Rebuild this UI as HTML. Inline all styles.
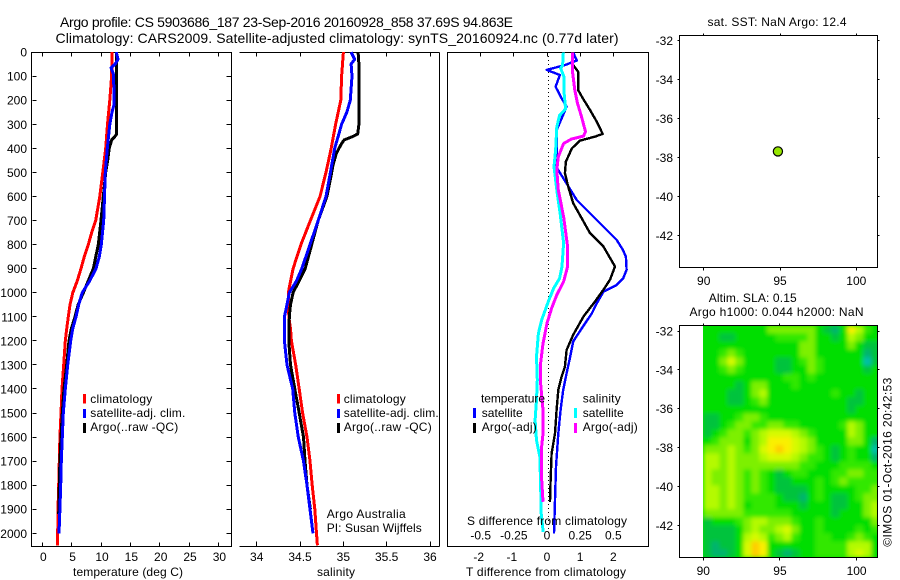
<!DOCTYPE html>
<html lang="en">
<head>
<meta charset="utf-8">
<title>Argo profile CS 5903686_187</title>
<style>
html,body{margin:0;padding:0;background:#fff;}
svg{display:block;font-family:"Liberation Sans",Arial,sans-serif;font-size:12px;fill:#000;}
.t14{font-size:14px;}
.ax{stroke:#000;stroke-width:1;shape-rendering:crispEdges;fill:none;}
</style>
</head>
<body>
<svg id="chart" xmlns="http://www.w3.org/2000/svg" width="900" height="580" viewBox="0 0 900 580">
  <defs>
    <filter id="soft" x="-5%" y="-5%" width="110%" height="110%"><feGaussianBlur stdDeviation="2"/></filter>
    <clipPath id="map-clip"><rect x="703" y="326" width="175" height="231"/></clipPath>
  </defs>
  <rect width="900" height="580" fill="#fff"/>

  <text class="t14" x="60" y="27" textLength="453">Argo profile: CS 5903686_187 23-Sep-2016 20160928_858 37.69S 94.863E</text>
  <text class="t14" x="55.5" y="43" textLength="563">Climatology: CARS2009. Satellite-adjusted climatology: synTS_20160924.nc (0.77d later)</text>

  <g id="temp-panel"></g>
  <g id="sal-panel"></g>
  <g id="diff-panel"></g>
  <g id="sst-map"></g>
  <g id="sla-map"></g>

  <text x="128" y="576" text-anchor="middle" textLength="110">temperature (deg C)</text>
  <text x="336" y="576" text-anchor="middle" textLength="38">salinity</text>
  <text x="546" y="576" text-anchor="middle" textLength="160">T difference from climatology</text>
  <text x="547" y="525" text-anchor="middle" textLength="160">S difference from climatology</text>

  <g>
    <rect x="83" y="394" width="3" height="9.5" fill="#f00"/>
    <text x="90.3" y="403" textLength="62">climatology</text>
    <rect x="83" y="409" width="3" height="9" fill="#00f"/>
    <text x="90.3" y="417" textLength="95">satellite-adj. clim.</text>
    <rect x="83" y="423" width="3" height="10" fill="#000"/>
    <text x="90.3" y="431" textLength="88">Argo(..raw -QC)</text>
  </g>
  <g>
    <rect x="337" y="394" width="3" height="9.5" fill="#f00"/>
    <text x="343.7" y="403" textLength="62">climatology</text>
    <rect x="337" y="409" width="3" height="9" fill="#00f"/>
    <text x="343.7" y="417" textLength="95">satellite-adj. clim.</text>
    <rect x="337" y="423" width="3" height="10" fill="#000"/>
    <text x="343.7" y="431" textLength="88">Argo(..raw -QC)</text>
  </g>
  <text x="326.7" y="518" textLength="79">Argo Australia</text>
  <text x="326.7" y="532" textLength="95">PI: Susan Wijffels</text>

  <g>
    <text x="481" y="402.5" textLength="64">temperature</text>
    <rect x="473" y="408" width="3" height="10" fill="#00f"/>
    <text x="481.7" y="417" textLength="41">satellite</text>
    <rect x="473" y="423" width="3" height="10" fill="#000"/>
    <text x="481.7" y="431" textLength="55">Argo(-adj)</text>
    <text x="582.7" y="402.5" textLength="38">salinity</text>
    <rect x="574" y="408" width="3" height="10" fill="#0ff"/>
    <text x="582.7" y="417" textLength="41">satellite</text>
    <rect x="574" y="423" width="3" height="10" fill="#f0f"/>
    <text x="582.7" y="431" textLength="55">Argo(-adj)</text>
  </g>

  <text x="777" y="26" text-anchor="middle" textLength="139">sat. SST: NaN Argo: 12.4</text>
  <text x="752.7" y="302" text-anchor="middle" textLength="88">Altim. SLA: 0.15</text>
  <text x="776.5" y="316" text-anchor="middle" textLength="174">Argo h1000: 0.044 h2000: NaN</text>
  <text transform="translate(891.5,546.7) rotate(-90)" textLength="169">©IMOS 01-Oct-2016 20:42:53</text>
</svg>

<script>
// ---------- Depth axis ----------
const depthTicks = [0,100,200,300,400,500,600,700,800,900,1000,1100,1200,1300,1400,1500,1600,1700,1800,1900,2000];

// ---------- Temperature panel ----------
const tempTicks = [0,5,10,15,20,25,30];
const tempClimDepth = [0,100,200,300,400,500,600,700,750,800,850,900,950,1000,1050,1100,1150,1200,1300,1400,1500,1600,1700,1800,1900,2000,2050];
const tempClimValues = [11.9,11.8,11.5,11.1,10.8,10.3,9.8,9.1,8.41,7.84,7.16,6.6,5.97,5.2,4.72,4.43,4.16,3.92,3.64,3.36,3.19,3.0,2.9,2.8,2.67,2.62,2.62];
const tempArgoDepth = [0,340,350,365,400,450,500,600,700,800,900,950,1000,1050,1100,1150,1200,1300,1400,1500,1600,1700,1800,1920];
const tempArgoValues = [12.67,12.67,12.4,11.82,11.4,11.14,10.8,10.4,10.0,9.54,8.69,7.84,7.0,6.1,5.57,4.94,4.55,4.16,3.7,3.41,3.19,3.0,2.9,2.8];
const tempSatDepth = [0,30,50,65,90,150,220,250,300,400,500,600,700,800,850,900,950,1000,1050,1100,1150,1200,1300,1400,1500,1600,1700,1800,1900,2000];
const tempSatValues = [12.6,12.9,12.4,11.7,12.1,12.2,12.2,11.87,11.5,11.07,10.73,10.6,10.46,10.05,9.71,9.15,8.1,6.8,6.2,5.74,5.18,4.84,4.33,3.92,3.58,3.41,3.24,3.13,3.0,2.84];

// ---------- Salinity panel ----------
const salTicks = [34,34.5,35,35.5,36];
const salTickLabels = ['34','34.5','35','35.5','36'];
const salClimDepth = [0,100,200,250,300,400,500,600,700,800,900,1000,1100,1150,1200,1300,1400,1500,1600,1700,1800,1900,2000,2050];
const salClimValues = [35.0,34.98,34.97,34.94,34.91,34.86,34.8,34.73,34.62,34.51,34.42,34.365,34.37,34.39,34.4,34.45,34.49,34.53,34.58,34.615,34.64,34.67,34.69,34.7];
const salArgoDepth = [0,50,300,340,350,365,380,420,470,500,600,700,800,900,1000,1050,1100,1200,1300,1400,1500,1600,1700,1800,1900];
const salArgoValues = [35.17,35.18,35.18,35.166,35.115,35.01,34.98,34.92,34.88,34.866,34.81,34.71,34.635,34.56,34.42,34.39,34.376,34.37,34.39,34.44,34.49,34.54,34.557,34.58,34.62];
const salSatDepth = [0,30,50,100,200,250,300,350,400,500,600,700,800,900,950,1000,1050,1100,1200,1300,1400,1500,1600,1700,1800,1900,2000];
const salSatValues = [35.09,35.13,35.09,35.1,35.08,35.04,34.98,34.94,34.9,34.85,34.8,34.71,34.615,34.52,34.46,34.376,34.35,34.32,34.32,34.35,34.415,34.44,34.48,34.54,34.58,34.615,34.65];

// ---------- Difference panel ----------
const diffTTicks = [-2,-1,0,1,2];
const diffSTicks = [-0.5,-0.25,0,0.25,0.5];
const diffSTickLabels = ['-0.5','-0.25','0','0.25','0.5'];
const diffTSatDepth = [2,35,54,74,95,144,192,227,276,324,421,469,546,615,698,739,780,820,850,905,940,968,996,1045,1086,1148,1203,1266,1335,1404,1487,1585,1723,1862,2000];
const diffTSatValues = [0.79,0.9,0.54,-0.01,0.39,0.26,0.44,0.59,0.44,0.29,0.29,0.24,0.59,0.9,1.5,1.8,2.1,2.28,2.38,2.4,2.3,2.1,1.7,1.5,1.35,1.05,0.79,0.7,0.59,0.49,0.41,0.34,0.27,0.24,0.21];
const diffTArgoDepth = [54,82,158,192,241,289,340,351,368,400,455,503,559,628,704,753,808,891,946,988,1036,1099,1175,1238,1308,1349,1404,1487,1585,1668,1779,1869];
const diffTArgoValues = [0.79,0.94,0.94,1.08,1.3,1.5,1.68,1.45,1.0,0.75,0.57,0.54,0.64,0.79,1.1,1.3,1.7,2.05,1.9,1.7,1.45,1.1,0.79,0.59,0.54,0.44,0.34,0.29,0.24,0.14,0.11,0.09];
const diffSSatDepth = [2,54,68,105,174,236,263,311,408,476,573,670,794,891,940,982,1037,1113,1169,1266,1363,1446,1530,1613,1682,1779,1918,1994];
const diffSSatValues = [0.123,0.118,0.103,0.13,0.13,0.14,0.095,0.074,0.065,0.053,0.074,0.099,0.125,0.113,0.095,0.05,0.01,-0.04,-0.065,-0.079,-0.073,-0.079,-0.09,-0.079,-0.054,-0.049,-0.044,-0.029];
const diffSArgoDepth = [2,88,158,213,268,331,349,361,380,435,490,573,684,808,891,954,1009,1065,1127,1211,1294,1377,1487,1585,1654,1751,1869];
const diffSArgoValues = [0.194,0.194,0.21,0.23,0.26,0.29,0.275,0.185,0.125,0.085,0.074,0.085,0.125,0.155,0.155,0.125,0.074,0.035,0,-0.03,-0.048,-0.048,-0.03,-0.03,-0.043,-0.043,-0.03];

// ---------- Maps ----------
const lonTicks = [90,95,100];
const latTicks = [-32,-34,-36,-38,-40,-42];
const profileLon = [94.863];
const profileLat = [-37.69];
// Sea level anomaly in colour levels (0 = teal ... 9 = orange), north to south, west to east.
const slaLevels = [
[3,3,3,3,3,3,3,3,5,5,5,5,5,5,3,2,1,3,8,6,4,3],
[3,3,2,2,3,3,3,3,3,4,4,4,4,5,3,3,2,3,6,5,3,3],
[3,3,3,3,3,3,3,3,3,3,3,3,5,5,3,3,3,3,5,3,2,2],
[3,3,4,5,4,3,3,3,3,3,3,3,5,5,3,3,3,3,3,3,1,2],
[3,3,5,7,5,3,3,3,3,2,2,3,4,5,4,3,3,3,3,3,0,2],
[3,3,4,5,4,3,3,3,3,2,2,3,3,5,4,3,3,3,3,3,2,3],
[3,3,3,3,3,3,3,3,3,3,4,4,3,4,3,3,3,3,3,3,3,3],
[3,3,3,3,2,3,5,5,3,3,3,4,3,3,3,3,3,3,3,3,3,3],
[3,3,3,2,2,3,5,6,3,3,3,3,3,3,3,3,4,3,3,2,3,3],
[3,3,3,2,2,3,4,5,3,3,3,3,3,3,3,3,3,3,2,2,3,3],
[3,3,3,3,3,3,3,3,3,3,3,3,3,3,3,3,3,3,2,3,3,3],
[2,2,3,3,4,5,5,4,3,3,3,3,3,3,3,3,3,3,3,3,3,3],
[2,2,3,4,5,5,4,4,5,5,4,4,3,3,3,3,3,4,6,5,3,3],
[2,3,4,5,5,4,5,6,7,7,7,6,5,4,3,3,3,3,6,5,3,3],
[3,4,5,5,5,3,5,6,8,8,8,7,6,5,3,3,3,3,5,5,3,1],
[5,5,5,6,5,4,5,7,8,9,8,7,6,5,4,3,2,3,4,3,3,0],
[6,6,5,6,5,5,5,6,7,7,7,6,5,4,4,3,2,3,4,3,3,1],
[6,6,5,6,5,5,5,5,5,5,5,5,4,4,3,3,3,4,4,4,4,3],
[6,5,5,6,5,4,5,4,3,2,3,4,4,3,3,3,4,4,5,5,4,4],
[6,5,5,6,5,4,5,4,3,2,2,3,3,3,4,3,4,5,4,4,4,4],
[6,6,5,6,5,4,5,4,3,2,2,2,2,3,4,3,3,3,3,4,4,5],
[6,6,5,6,5,4,4,4,4,3,2,2,1,3,4,3,2,2,3,4,5,5],
[6,6,5,6,5,3,4,4,4,3,3,3,2,3,3,3,2,2,3,3,5,6],
[5,5,5,5,5,4,4,4,4,4,4,3,3,3,3,3,2,3,3,3,5,6],
[2,3,3,3,4,5,6,6,5,5,5,4,3,3,4,3,3,3,3,3,3,5],
[2,2,2,2,3,5,6,5,5,6,7,5,3,3,4,3,3,3,3,4,3,4],
[2,2,2,2,3,6,7,6,4,5,6,4,3,3,4,4,3,3,4,5,4,3],
[2,1,2,2,3,7,9,8,3,3,3,3,3,3,4,4,4,4,6,6,6,3],
[2,1,1,2,3,7,9,8,3,2,1,2,3,3,4,4,4,4,6,7,6,3]
];

// ---------- Axis functions ----------
const yDepth = d => 52.1 + d * 0.2406;
const xTemp = v => 42.3 + v * 5.87;
const xSal = v => 256.7 + (v - 34) * 86.65;
const xDiffT = v => 547 + v * 33.15;
const xDiffS = v => 547 + v * 132.6;
const xLon1 = v => 703.7 + (v - 90) * 15.26;
const yLat1 = v => 40.7 + (-32 - v) * 19.46;
const xLon2 = v => 703.3 + (v - 90) * 15.33;
const yLat2 = v => 331 + (-32 - v) * 19.43;
const heatLon = c => 90 + c * 0.5219;
const heatLat = r => -31.71 - r * 0.4117;

const NS = 'http://www.w3.org/2000/svg';
function mk(parent, tag, attrs, txt) {
  const el = document.createElementNS(NS, tag);
  for (const k in attrs) el.setAttribute(k, attrs[k]);
  if (txt !== undefined) el.textContent = txt;
  parent.appendChild(el);
  return el;
}
const snap = v => Math.floor(v) + 0.5;
function seg(g, x1, y1, x2, y2) {
  return mk(g, 'line', {x1: snap(x1), y1: snap(y1), x2: snap(x2), y2: snap(y2), class: 'ax'});
}
function profile(g, depths, values, xf, colour, width) {
  const pts = depths.map((d, i) => xf(values[i]).toFixed(1) + ',' + yDepth(d).toFixed(1));
  return mk(g, 'polyline', {points: pts.join(' '), fill: 'none', stroke: colour, 'stroke-width': width, 'stroke-linejoin': 'round', 'shape-rendering': 'crispEdges'});
}

// ---------- Temperature panel ----------
const tg = document.getElementById('temp-panel');
const T = 52, B = 546;
let e;
e = mk(tg, 'rect', {x: 31.5, y: T + .5, width: 200, height: B - T, class: 'ax'});


depthTicks.forEach(d => {
  e = seg(tg, 32, yDepth(d), 36, yDepth(d));
  
  
  e = seg(tg, 226, yDepth(d), 231, yDepth(d));
  
  
  e = mk(tg, 'text', {x: 27, y: yDepth(d) + 4.5, 'text-anchor': 'end'}, String(d));
  
  
});
tempTicks.forEach(v => {
  e = seg(tg, xTemp(v), T, xTemp(v), T + 4);
  
  
  e = seg(tg, xTemp(v), B - 4, xTemp(v), B);
  
  
  e = mk(tg, 'text', {x: xTemp(v) + 1, y: 561, 'text-anchor': 'middle'}, String(v));
  
  
});
e = profile(tg, tempClimDepth, tempClimValues, xTemp, '#f00', 3);


e = profile(tg, tempArgoDepth, tempArgoValues, xTemp, '#000', 3);


e = profile(tg, tempSatDepth, tempSatValues, xTemp, '#00f', 3);



// ---------- Salinity panel ----------
const sg = document.getElementById('sal-panel');
e = seg(sg, 239, T, 439, T);


e = seg(sg, 239, B, 439, B);


e = seg(sg, 439, T, 439, B);


salTicks.forEach((v, i) => {
  e = seg(sg, xSal(v), T, xSal(v), T + 4);
  
  
  e = seg(sg, xSal(v), B - 5, xSal(v), B);
  
  
  e = mk(sg, 'text', {x: xSal(v), y: 561, 'text-anchor': 'middle'}, salTickLabels[i]);
  
  
});
e = profile(sg, salClimDepth, salClimValues, xSal, '#f00', 3);


e = profile(sg, salArgoDepth, salArgoValues, xSal, '#000', 3);


e = profile(sg, salSatDepth, salSatValues, xSal, '#00f', 3);



// ---------- Difference panel ----------
const dg = document.getElementById('diff-panel');
e = mk(dg, 'rect', {x: 447.5, y: T + .5, width: 201, height: B - T, class: 'ax'});


e = mk(dg, 'line', {x1: 548.5, y1: T, x2: 548.5, y2: 536, stroke: '#000', 'stroke-dasharray': '1 3', 'shape-rendering': 'crispEdges'});


diffTTicks.forEach(v => {
  e = seg(dg, xDiffT(v), T, xDiffT(v), T + 4);
  
  
  e = mk(dg, 'text', {x: xDiffT(v) - (v < 0 ? 2 : 0), y: 561, 'text-anchor': 'middle'}, String(v));
  
  
});
diffSTicks.forEach((v, i) => {
  e = mk(dg, 'text', {x: xDiffS(v), y: 539.5, 'text-anchor': 'middle'}, diffSTickLabels[i]);
  
  
});
e = profile(dg, diffTSatDepth, diffTSatValues, xDiffT, '#00f', 2.4);


e = profile(dg, diffTArgoDepth, diffTArgoValues, xDiffT, '#000', 2.4);


e = profile(dg, diffSSatDepth, diffSSatValues, xDiffS, '#0ff', 3);


e = profile(dg, diffSArgoDepth, diffSArgoValues, xDiffS, '#f0f', 3);



// ---------- Map axes ----------
function mapFrame(g, left, right, top, bottom, xf, yf, labelY) {
  lonTicks.forEach(v => {
    const tickTop = seg(g, xf(v), top - 2, xf(v), top);
    
    
    const tickBot = seg(g, xf(v), bottom, xf(v), bottom + 3);
    
    
    const lab = mk(g, 'text', {x: xf(v), y: labelY, 'text-anchor': 'middle'}, String(v));
    
    
  });
  latTicks.forEach(v => {
    const tickL = seg(g, left - 2, yf(v), left, yf(v));
    
    
    const tickR = seg(g, right, yf(v), right + 2, yf(v));
    
    
    const lab = mk(g, 'text', {x: 673, y: yf(v) + 4.5, 'text-anchor': 'end'}, String(v));
    
    
  });
  const frame = mk(g, 'rect', {x: left + .5, y: top + .5, width: right - left, height: bottom - top, class: 'ax'});
  
  
}

// ---------- SST map ----------
const m1 = document.getElementById('sst-map');
mapFrame(m1, 679, 877, 35, 267, xLon1, yLat1, 285);
profileLon.forEach((lon, i) => {
  const dot = mk(m1, 'circle', {cx: xLon1(lon), cy: yLat1(profileLat[i]), r: 4.6, fill: '#96e600', stroke: '#000', 'stroke-width': 1.2});
  
  
});

// ---------- SLA map ----------
const rampColours = [[0,190,170],[0,180,110],[0,195,60],[0,222,0],[50,232,0],[125,240,0],[180,250,0],[215,250,0],[250,240,0],[255,205,0]];
function rampColour(v) {
  const c = Math.max(0, Math.min(rampColours.length - 1, v));
  const i = Math.min(rampColours.length - 2, Math.floor(c));
  const f = c - i;
  const mix = rampColours[i].map((a, k) => Math.round(a + (rampColours[i + 1][k] - a) * f));
  return 'rgb(' + mix.join(',') + ')';
}
const m2 = document.getElementById('sla-map');
const clipG = mk(m2, 'g', {'clip-path': 'url(#map-clip)'});


const base = mk(clipG, 'rect', {x: 695, y: 318, width: 195, height: 250, fill: rampColour(3)});


const softG = mk(clipG, 'g', {filter: 'url(#soft)'});
slaLevels.forEach((row, r) => {
  row.forEach((v, c) => {
    const x0 = xLon2(heatLon(c)), x1 = xLon2(heatLon(c + 1));
    const y0 = yLat2(heatLat(r)), y1 = yLat2(heatLat(r + 1));
    const cell = mk(softG, 'rect', {x: x0.toFixed(2), y: y0.toFixed(2), width: (x1 - x0 + .4).toFixed(2), height: (y1 - y0 + .4).toFixed(2), fill: rampColour(v)});
    
    
  });
});
mapFrame(m2, 679, 877, 325, 557, xLon2, yLat2, 575);
</script>
</body>
</html>
